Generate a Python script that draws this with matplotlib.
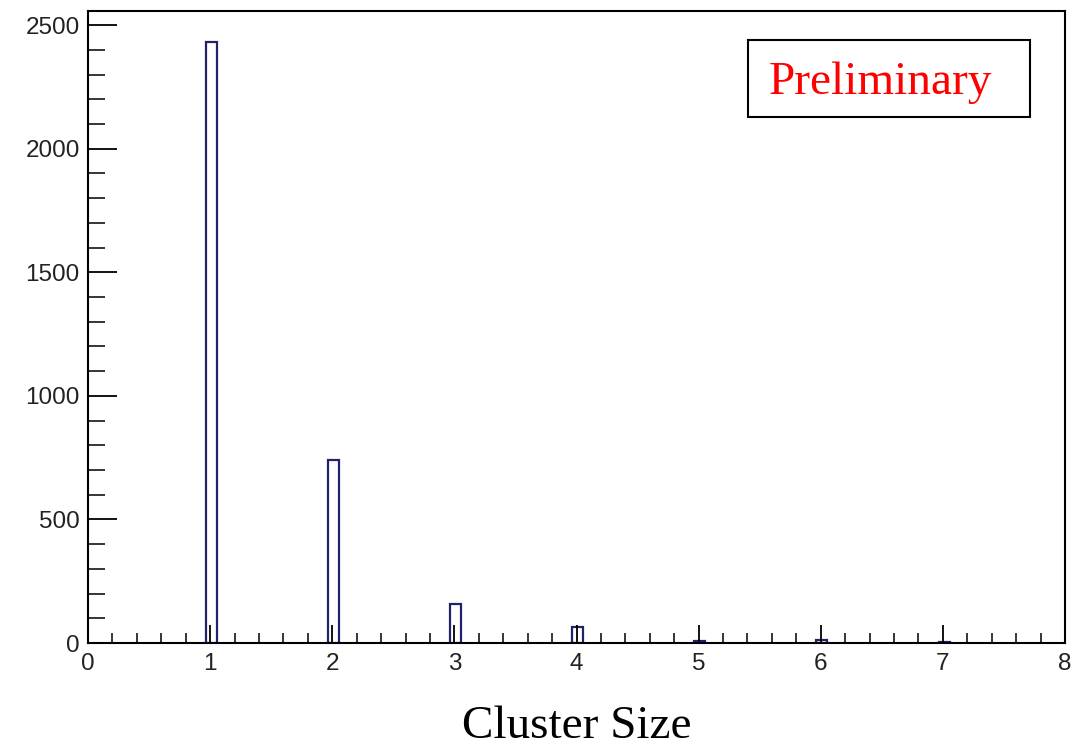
import matplotlib.pyplot as plt
from matplotlib.patches import Rectangle
from matplotlib.ticker import MultipleLocator

# --- Data ---
cluster_size = [1, 2, 3, 4, 5, 6, 7]
counts = [2430, 740, 158, 65, 10, 12, 5]
BIN_WIDTH = 0.09

LINE_COLOR = "#22226a"

fig = plt.figure(figsize=(10.92, 7.51), dpi=100)
ax = fig.add_axes([88 / 1092, 1 - 643 / 751, (1065 - 88) / 1092, (643 - 11) / 751])

# histogram-style outlined bars
ax.bar([c - 0.035 for c in cluster_size], counts, width=BIN_WIDTH, align="edge",
       facecolor="white", edgecolor=LINE_COLOR, linewidth=1.6, zorder=1)

ax.set_xlim(0, 8)
ax.set_ylim(0, 2557)

ax.xaxis.set_major_locator(MultipleLocator(1))
ax.xaxis.set_minor_locator(MultipleLocator(0.2))
ax.yaxis.set_major_locator(MultipleLocator(500))
ax.yaxis.set_minor_locator(MultipleLocator(100))

ax.tick_params(axis="y", which="major", direction="in", length=21, width=1.3,
               labelsize=17.5, pad=6)
ax.tick_params(axis="y", which="minor", direction="in", length=12.5, width=1.1)
ax.tick_params(axis="x", which="major", direction="in", length=13, width=1.3,
               labelsize=17.5, pad=7)
ax.tick_params(axis="x", which="minor", direction="in", length=7, width=1.1)
for lab in ax.get_xticklabels() + ax.get_yticklabels():
    lab.set_family("Liberation Sans")
    lab.set_color("#222222")

for sp in ax.spines.values():
    sp.set_linewidth(1.5)

ax.set_xlabel("Cluster Size", family="Liberation Serif", fontsize=34, labelpad=22)

# "Preliminary" box
ax.add_patch(Rectangle((0.676, 0.832), 0.288, 0.122, transform=ax.transAxes,
                       facecolor="white", edgecolor="black", linewidth=1.5, zorder=3))
ax.text(0.811, 0.886, "Preliminary", transform=ax.transAxes, ha="center", va="center",
        family="Liberation Serif", fontsize=34, color="red", zorder=4)

plt.savefig("out.png", dpi=100)
